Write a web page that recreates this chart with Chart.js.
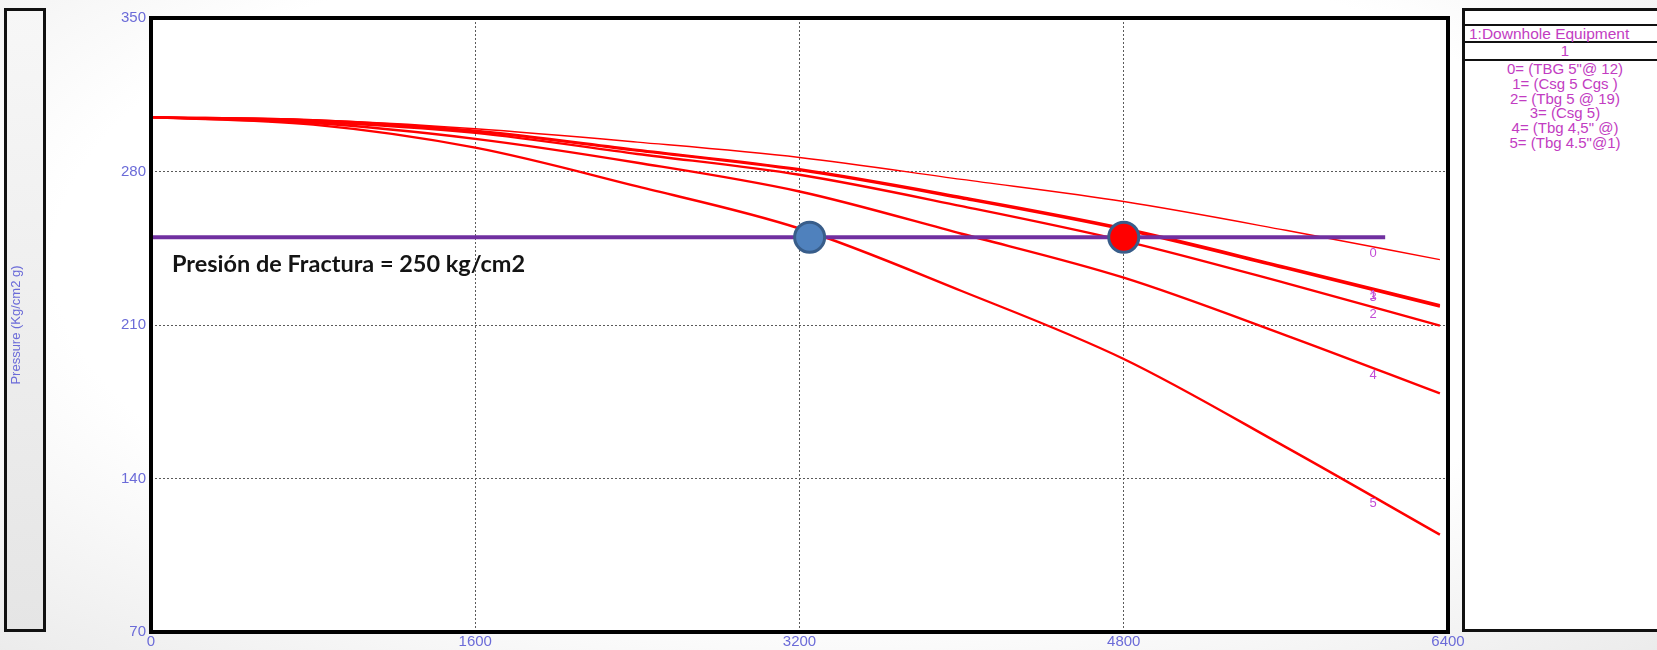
<!DOCTYPE html>
<html>
<head>
<meta charset="utf-8">
<script src="https://cdn.jsdelivr.net/npm/chart.js@4.4.1/dist/chart.umd.min.js"></script>
<style>
  html, body { margin: 0; padding: 0; width: 1657px; height: 650px; overflow: hidden; }
  body {
    background: radial-gradient(ellipse 85% 95% at 50% 40%, #ffffff 55%, #e3e3e3 100%);
    font-family: "Liberation Sans", Arial, sans-serif;
  }
  #wrap { position: relative; width: 1657px; height: 650px; }
  #c { position: absolute; left: 0; top: 0; }
  #panel {
    position: absolute; left: 1462px; top: 8px; width: 230px; height: 618px;
    border: 3px solid #111; border-right: none; background: #fff;
  }
  #panel .rule { position: absolute; left: 0; right: 0; height: 2px; background: #111; }
  #panel .txt { position: absolute; font-size: 15px; line-height: 16px; color: #c23cc2; white-space: pre; }
  #panel .ctr { left: 0; width: 200px; text-align: center; }
</style>
</head>
<body>
<div id="wrap">
  <canvas id="c" width="1657" height="650"></canvas>
  <div id="panel"></div>
</div>
<script>
// Depth samples (x) shared by every pressure curve
const DEPTH = [0, 800, 1600, 2400, 3200, 4000, 4800, 5600, 6360];

// Pressure along each completion string (Kg/cm2 g)
const P_CURVE0 = [304.8, 303.6, 299.5, 293.4, 286.4, 276.4, 266.3, 253.2, 239.8];
const P_CURVE1 = [304.8, 303.4, 298.6, 289.8, 281.0, 268.3, 254.1, 236.4, 219.1];
const P_CURVE2 = [304.8, 302.7, 297.6, 288.0, 278.5, 264.2, 248.4, 229.1, 209.7];
const P_CURVE3 = [304.8, 303.2, 298.3, 289.5, 280.6, 267.8, 253.5, 235.8, 218.4];
const P_CURVE4 = [304.8, 302.1, 294.9, 284.0, 270.9, 251.6, 231.6, 205.3, 178.8];
const P_CURVE5 = [304.8, 301.4, 290.9, 273.2, 254.0, 225.5, 194.5, 154.3, 114.4];

const CURVE_IDS = ['0', '1', '2', '3', '4', '5'];
const SERIES_NAMES = ['0= (TBG 5"@ 12)', '1= (Csg 5 Cgs )', '2= (Tbg 5 @ 19)', '3= (Csg 5)', '4= (Tbg 4,5" @)', '5= (Tbg 4.5"@1)'];
const PANEL_TITLE = '1:Downhole Equipment';
const PANEL_GROUP = '1';

const X_TICKS = [0, 1600, 3200, 4800, 6400];
const Y_TICKS = [70, 140, 210, 280, 350];

// Fracture pressure reference
const FRACTURE_P = 250;
const FRACTURE_X = [0, 6090];
const FRACTURE_TEXT = 'Presión de Fractura = 250 kg/cm2';
const MARKER_X = [3250, 4800];
const MARKER_COLORS = ['#4f81bd', '#ff0000'];

// Depth at which the curve numbers are written
const LABEL_X = 6030;

const CURVES = [P_CURVE0, P_CURVE1, P_CURVE2, P_CURVE3, P_CURVE4, P_CURVE5];
const AXIS_BLUE = '#6b6bd8';
const LABEL_MAGENTA = '#c24bd6';

// ---- side panel with the equipment list ----
(function buildPanel() {
  const panel = document.getElementById('panel');
  const add = (cls, css, text) => {
    const d = document.createElement('div');
    d.className = cls; d.style.cssText = css;
    if (text !== undefined) d.textContent = text;
    panel.appendChild(d);
  };
  add('rule', 'top:13px;');
  add('rule', 'top:30px;');
  add('rule', 'top:48px;');
  add('txt', 'left:4px;top:15px;font-size:15.5px;', PANEL_TITLE);
  add('txt ctr', 'top:32px;', PANEL_GROUP);
  SERIES_NAMES.forEach((name, i) => add('txt ctr', 'top:' + (50 + i * 14.8) + 'px;', name));
})();

function valueAt(arr, x) {
  for (let i = 0; i < DEPTH.length - 1; i++) {
    if (x >= DEPTH[i] && x <= DEPTH[i + 1]) {
      const t = (x - DEPTH[i]) / (DEPTH[i + 1] - DEPTH[i]);
      return arr[i] + t * (arr[i + 1] - arr[i]);
    }
  }
  return arr[arr.length - 1];
}

const decor = {
  id: 'decor',
  beforeDraw(chart) {
    const { ctx, chartArea: a } = chart;
    ctx.save();
    // box holding the pressure axis title
    const g = ctx.createLinearGradient(0, 8, 0, 632);
    g.addColorStop(0, '#f7f7f7');
    g.addColorStop(1, '#e5e5e5');
    ctx.fillStyle = g;
    ctx.fillRect(5.5, 9.5, 39, 621);
    ctx.lineWidth = 3;
    ctx.strokeStyle = '#111';
    ctx.strokeRect(5.5, 9.5, 39, 621);
    // plot background
    ctx.fillStyle = '#ffffff';
    ctx.fillRect(a.left, a.top, a.right - a.left, a.bottom - a.top);
    ctx.restore();
  },
  afterDatasetsDraw(chart) {
    const { ctx, chartArea: a, scales } = chart;
    const xs = scales.x, ys = scales.y;
    ctx.save();
    // curve numbers
    ctx.font = '13px "Liberation Sans", Arial, sans-serif';
    ctx.fillStyle = LABEL_MAGENTA;
    ctx.textAlign = 'center';
    ctx.textBaseline = 'middle';
    const lx = xs.getPixelForValue(LABEL_X);
    CURVES.forEach((arr, i) => {
      const py = ys.getPixelForValue(valueAt(arr, LABEL_X)) + 7;
      ctx.fillText(CURVE_IDS[i], lx, py);
    });
    // fracture pressure caption
    const base = 20;
    ctx.font = 'bold ' + base + 'px Lato, "Open Sans", sans-serif';
    const w = ctx.measureText(FRACTURE_TEXT).width;
    const size = base * 353 / w;
    ctx.font = 'bold ' + size.toFixed(2) + 'px Lato, "Open Sans", sans-serif';
    ctx.fillStyle = '#141414';
    ctx.textAlign = 'left';
    ctx.fillText(FRACTURE_TEXT, 172, ys.getPixelForValue(FRACTURE_P) + 27);
    // heavy frame around the plot
    ctx.lineWidth = 4;
    ctx.strokeStyle = '#000';
    ctx.strokeRect(a.left, a.top, a.right - a.left, a.bottom - a.top);
    ctx.restore();
  }
};

const toPoints = (arr) => DEPTH.map((x, i) => ({ x: x, y: arr[i] }));

const datasets = [
  {
    label: 'markers',
    data: MARKER_X.map(x => ({ x: x, y: FRACTURE_P })),
    showLine: false,
    pointRadius: 15,
    pointBorderWidth: 3,
    pointBorderColor: '#385d8a',
    pointBackgroundColor: MARKER_COLORS
  },
  {
    label: 'fracture',
    data: FRACTURE_X.map(x => ({ x: x, y: FRACTURE_P })),
    borderColor: '#7030a0',
    borderWidth: 4,
    pointRadius: 0
  }
].concat(CURVES.map((arr, i) => ({
  label: SERIES_NAMES[i],
  data: toPoints(arr),
  borderColor: '#ff0000',
  borderWidth: i === 0 ? 1.4 : 2.4,
  pointRadius: 0,
  cubicInterpolationMode: 'monotone'
})));

const gridColor = (min, max) => (c) =>
  (c.tick && (c.tick.value === min || c.tick.value === max)) ? 'rgba(0,0,0,0)' : '#5a5a5a';

new Chart(document.getElementById('c'), {
  type: 'line',
  data: { datasets: datasets },
  plugins: [decor],
  options: {
    responsive: false,
    devicePixelRatio: 1,
    animation: false,
    layout: { padding: { top: 9, right: 209, left: 0, bottom: 0 } },
    plugins: { legend: { display: false }, tooltip: { enabled: false } },
    scales: {
      x: {
        type: 'linear',
        min: X_TICKS[0],
        max: X_TICKS[X_TICKS.length - 1],
        afterBuildTicks: (s) => { s.ticks = X_TICKS.map(v => ({ value: v })); },
        afterFit: (s) => { s.height = 14; },
        ticks: {
          color: AXIS_BLUE,
          padding: 1,
          maxRotation: 0,
          font: { family: '"Liberation Sans", Arial, sans-serif', size: 15 },
          callback: (v) => String(v)
        },
        grid: { color: gridColor(X_TICKS[0], X_TICKS[X_TICKS.length - 1]), lineWidth: 1, drawTicks: false },
        border: { display: false, dash: [2, 2] }
      },
      y: {
        type: 'linear',
        min: Y_TICKS[0],
        max: Y_TICKS[Y_TICKS.length - 1],
        afterBuildTicks: (s) => { s.ticks = Y_TICKS.map(v => ({ value: v })); },
        afterFit: (s) => { s.width = 151; },
        ticks: {
          color: AXIS_BLUE,
          padding: 5,
          font: { family: '"Liberation Sans", Arial, sans-serif', size: 15 },
          callback: (v) => String(v)
        },
        grid: { color: gridColor(Y_TICKS[0], Y_TICKS[Y_TICKS.length - 1]), lineWidth: 1, drawTicks: false },
        border: { display: false, dash: [2, 2] },
        title: {
          display: true,
          text: 'Pressure (Kg/cm2 g)',
          color: AXIS_BLUE,
          padding: { top: 9, bottom: 0 },
          font: { family: '"Liberation Sans", Arial, sans-serif', size: 13 }
        }
      }
    }
  }
});
</script>
</body>
</html>
